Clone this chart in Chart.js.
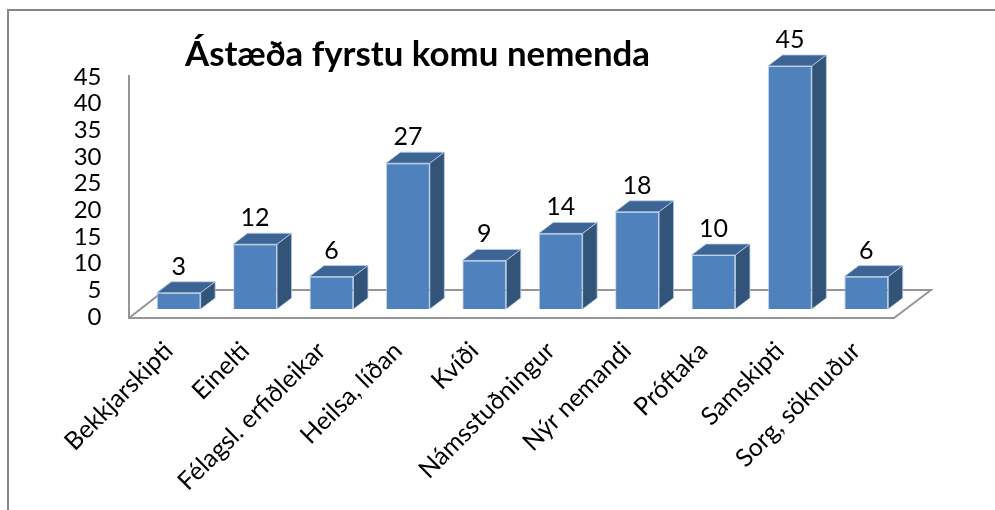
<!DOCTYPE html>
<html><head><meta charset="utf-8">
<style>html,body{margin:0;padding:0;background:#fff}canvas{display:block}</style>
<script src="https://cdn.jsdelivr.net/npm/chart.js@4"></script>
</head><body><canvas id="c" width="995" height="510"></canvas>
<script>
const categories = ["Bekkjarskipti","Einelti","Félagsl. erfiðleikar","Heilsa, líðan","Kvíði","Námsstuðningur","Nýr nemandi","Próftaka","Samskipti","Sorg, söknuður"];
const values = [3,12,6,27,9,14,18,10,45,6];
const tickLabels = [0,5,10,15,20,25,30,35,40,45];
const chartTitle = "Ástæða fyrstu komu nemenda";
const FONT = "Lato, Carlito, sans-serif";
const DX = 14.5, DY = 11;

const frame3d = {
  id:'frame3d',
  beforeDraw(chart){
    const c = chart.ctx;
    c.save();
    c.strokeStyle='#868686'; c.lineWidth=2;
    c.beginPath(); c.moveTo(8,510); c.lineTo(8,10); c.lineTo(995,10); c.stroke();
    c.restore();
    const t = chart.titleBlock;
    t.left = 185; t.right = 650; t.top = 34; t.bottom = 76;
  },
  beforeDatasetsDraw(chart){
    const c = chart.ctx, a = chart.chartArea;
    const fy = a.bottom, wx = 129, by = fy-28;
    c.save();
    c.strokeStyle='#969696'; c.lineWidth=2;
    c.beginPath();
    c.moveTo(wx,75); c.lineTo(wx,fy); c.lineTo(894,fy); c.lineTo(931,by); c.lineTo(wx+36,by); c.lineTo(wx,fy);
    c.stroke();
    c.restore();
  },
  afterDatasetsDraw(chart){
    const c = chart.ctx;
    const els = chart.getDatasetMeta(0).data;
    c.save();
    els.forEach((el,i)=>{
      const p = el.getProps(['x','y','base','width'],true);
      const l=p.x-p.width/2, r=p.x+p.width/2, t=p.y, b=p.base;
      c.lineWidth=1; c.strokeStyle='rgba(185,205,229,.8)';
      c.fillStyle='#3C6494';
      c.beginPath(); c.moveTo(l,t); c.lineTo(l+DX,t-DY); c.lineTo(r+DX,t-DY); c.lineTo(r,t); c.closePath(); c.fill(); c.stroke();
      c.fillStyle='#325479';
      c.beginPath(); c.moveTo(r,t); c.lineTo(r+DX,t-DY); c.lineTo(r+DX,b-DY); c.lineTo(r,b); c.closePath(); c.fill(); c.stroke();
      c.fillStyle='#000'; c.font='25px '+FONT; c.textAlign='center'; c.textBaseline='middle';
      c.fillText(String(values[i]), p.x, t-26);
    });
    c.restore();
  }
};

new Chart(document.getElementById('c'),{
  type:'bar',
  data:{labels:categories,datasets:[{data:values,yAxisID:'yBars',base:0,clip:false,
    backgroundColor:'#4F81BD',borderColor:'rgba(185,205,229,.8)',borderWidth:1,
    barPercentage:0.575,categoryPercentage:1}]},
  plugins:[frame3d],
  options:{
    responsive:false,animation:false,
    layout:{padding:{top:24,right:90.5,left:0,bottom:0}},
    plugins:{legend:{display:false},tooltip:{enabled:false},
      title:{display:true,text:chartTitle,color:'#000',align:'center',padding:0,
        font:{family:FONT,size:35,weight:'bold'}}},
    scales:{
      x:{grid:{display:false},border:{display:false},
        afterFit(s){s.height=192;},
        ticks:{color:'#000',font:{family:FONT,size:25},minRotation:45,maxRotation:45,padding:10,labelOffset:-10,autoSkip:false}},
      y:{position:'left',min:-0.1875,max:47.0625,grid:{display:false},border:{display:false},
        afterBuildTicks(s){s.ticks=tickLabels.map(v=>({value:v}));},
        afterFit(s){s.width=140.5;},
        ticks:{color:'#000',font:{family:FONT,size:24},padding:31,autoSkip:false,callback:v=>String(v)}},
      yBars:{display:false,min:-9/5.4,max:45}
    }
  }
});
</script></body></html>
